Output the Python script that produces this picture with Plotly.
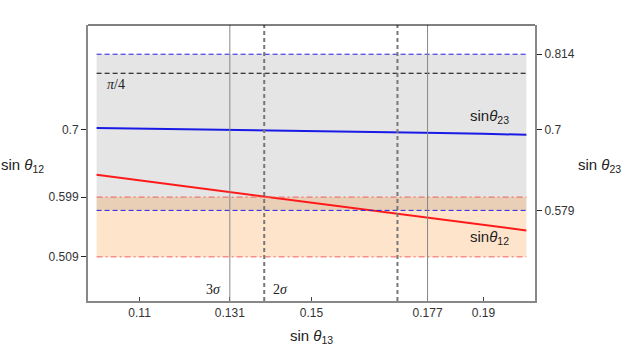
import plotly.graph_objects as go

# sin(theta13) samples and the two curves
s13 = [0.10, 0.11, 0.12, 0.13, 0.14, 0.15, 0.16, 0.17, 0.18, 0.19, 0.20]
s12 = [0.6326, 0.6243, 0.6159, 0.6075, 0.5993, 0.5910, 0.5827, 0.5744, 0.5660, 0.5575, 0.5488]
s23 = [0.7030, 0.7022, 0.7014, 0.7006, 0.6997, 0.6988, 0.6978, 0.6967, 0.6955, 0.6942, 0.6928]

# allowed ranges
s23_band = [0.579, 0.814]
s12_band = [0.509, 0.599]
pi_over_4 = 0.7854
s13_3sigma = [0.131, 0.177]
s13_2sigma = [0.139, 0.170]

x_ticks = [0.11, 0.131, 0.15, 0.177, 0.19]
left_ticks = [0.509, 0.599, 0.7]
right_ticks = [0.579, 0.7, 0.814]

x_range = [0.098, 0.202]
y_range = [0.4426, 0.858]

fig = go.Figure()

x0, x1 = s13[0], s13[-1]
shapes = [
    # shaded bands
    dict(type='rect', xref='x', yref='y', x0=x0, x1=x1, y0=s23_band[0], y1=s23_band[1],
         fillcolor='#e5e5e5', line_width=0, layer='below'),
    dict(type='rect', xref='x', yref='y', x0=x0, x1=x1, y0=s12_band[0], y1=s12_band[1],
         fillcolor='rgba(255,120,0,0.2)', line_width=0, layer='below'),
]
for v in s23_band:
    shapes.append(dict(type='line', xref='x', yref='y', x0=x0, x1=x1, y0=v, y1=v,
                       line=dict(color='#2020e0', width=1, dash='5px,3px')))
for v in s12_band:
    shapes.append(dict(type='line', xref='x', yref='y', x0=x0, x1=x1, y0=v, y1=v,
                       line=dict(color='#f06060', width=1, dash='6px,3px,2px,3px')))
shapes.append(dict(type='line', xref='x', yref='y', x0=x0, x1=x1, y0=pi_over_4, y1=pi_over_4,
                   line=dict(color='black', width=1.2, dash='5px,3px')))
for v in s13_3sigma:
    shapes.append(dict(type='line', xref='x', yref='paper', x0=v, x1=v, y0=0, y1=1,
                       line=dict(color='#888888', width=1)))
for v in s13_2sigma:
    shapes.append(dict(type='line', xref='x', yref='paper', x0=v, x1=v, y0=0, y1=1,
                       line=dict(color='#777777', width=2, dash='4px,3px')))
# top frame edge is black
shapes.append(dict(type='line', xref='paper', yref='paper', x0=0, x1=1, y0=1, y1=1,
                   line=dict(color='black', width=1)))

fig.add_trace(go.Scatter(x=s13, y=s23, mode='lines', line=dict(color='#1a1ae6', width=2),
                         showlegend=False, hoverinfo='skip'))
fig.add_trace(go.Scatter(x=s13, y=s12, mode='lines', line=dict(color='#ff1a1a', width=2),
                         showlegend=False, hoverinfo='skip'))
# invisible trace so the right axis is drawn
fig.add_trace(go.Scatter(x=[s13[0]], y=[s23[0]], yaxis='y2', mode='lines',
                         line=dict(width=0), showlegend=False, hoverinfo='skip'))

tick_font = dict(family='Liberation Sans, Arial, sans-serif', size=12, color='#333333')
label_font = dict(family='Liberation Sans, Arial, sans-serif', size=15, color='#222222')
curve_font = dict(family='Liberation Sans, Arial, sans-serif', size=15, color='#222222')
serif_font = dict(family='Liberation Serif, Times New Roman, serif', size=14, color='#222222')

annotations = [
    dict(text='sin <i>θ</i><sub>12</sub>', xref='paper', yref='paper', x=-0.147, y=0.49,
         xanchor='center', yanchor='middle', showarrow=False, font=label_font),
    dict(text='sin <i>θ</i><sub>23</sub>', xref='paper', yref='paper', x=1.144, y=0.49,
         xanchor='center', yanchor='middle', showarrow=False, font=label_font),
    dict(text='sin <i>θ</i><sub>13</sub>', xref='paper', yref='paper', x=0.5, y=-0.088,
         xanchor='center', yanchor='top', showarrow=False, font=label_font),
    dict(text='sin<i>θ</i><sub>23</sub>', xref='x', yref='y', x=0.1915, y=0.7035,
         xanchor='center', yanchor='bottom', showarrow=False, font=curve_font),
    dict(text='sin<i>θ</i><sub>12</sub>', xref='x', yref='y', x=0.1915, y=0.555,
         xanchor='center', yanchor='top', showarrow=False, font=curve_font),
    dict(text='<i>π</i>/4', xref='x', yref='y', x=0.1045, y=0.768,
         xanchor='center', yanchor='middle', showarrow=False, font=serif_font),
    dict(text='3<i>σ</i>', xref='x', yref='y', x=0.1295, y=0.460,
         xanchor='right', yanchor='middle', showarrow=False, font=serif_font),
    dict(text='2<i>σ</i>', xref='x', yref='y', x=0.1405, y=0.460,
         xanchor='left', yanchor='middle', showarrow=False, font=serif_font),
]

axis_common = dict(showgrid=False, zeroline=False, fixedrange=True, automargin=False,
                   showline=True, linecolor='#888888', linewidth=2, tickfont=tick_font)

fig.update_layout(
    width=623, height=346,
    margin=dict(l=88, r=88, t=25, b=45),
    plot_bgcolor='white', paper_bgcolor='white',
    shapes=shapes, annotations=annotations,
    showlegend=False,
    xaxis=dict(range=x_range, tickvals=x_ticks, ticktext=[str(v) for v in x_ticks],
               ticks='inside', ticklen=4, tickcolor='#444444', **axis_common),
    yaxis=dict(range=y_range, tickvals=left_ticks, ticktext=[str(v) for v in left_ticks],
               ticks='outside', ticklen=5, tickcolor='#222222', **axis_common),
    yaxis2=dict(range=y_range, overlaying='y', side='right',
                tickvals=right_ticks, ticktext=[str(v) for v in right_ticks],
                ticks='outside', ticklen=5, tickcolor='#222222', **axis_common),
)

# the page's default body margin would shift the figure by 8px
fig.write_html("out.html", config={'displayModeBar': False},
               post_script="document.body.style.margin='0px';")
